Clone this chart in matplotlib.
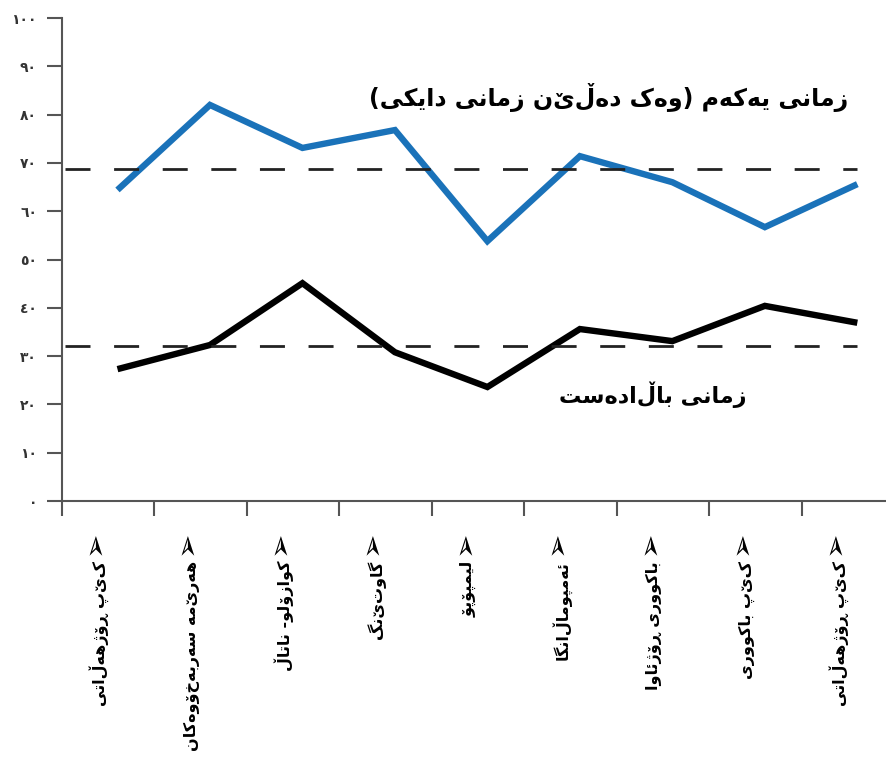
import matplotlib
matplotlib.use('Agg')
import matplotlib.pyplot as plt
import matplotlib.transforms as mtransforms
import numpy as np

plt.rcParams['font.family'] = ['DejaVu Sans']

provinces = ['کێپ ڕۆژهەڵاتی', 'هەرێمە سەربەخۆوەکان', 'کوازۆلو- ناتاڵ', 'گاوتێنگ',
             'لیمپۆپۆ', 'ئەمپوماڵانگا', 'باکووری ڕۆژئاوا', 'کێپ باکووری', 'کێپ ڕۆژهەڵاتی']
first_lang = [64.4, 82.0, 73.1, 76.8, 53.8, 71.4, 66.0, 56.7, 65.6]
dominant_lang = [27.3, 32.3, 45.1, 30.8, 23.6, 35.6, 33.1, 40.4, 36.9]
first_avg = 68.7
dominant_avg = 32.1
label_first = 'زمانی یەکەم (وەک دەڵێن زمانی دایکی)'
label_dominant = 'زمانی باڵادەست'
yticks = [0, 10, 20, 30, 40, 50, 60, 70, 80, 90, 100]

# matplotlib has no arabic shaping, so pick presentation forms by hand
FORMS = {
    'ب': '\uFE8F\uFE90\uFE91\uFE92', 'ت': '\uFE95\uFE96\uFE97\uFE98',
    'پ': '\uFB56\uFB57\uFB58\uFB59', 'س': '\uFEB1\uFEB2\uFEB3\uFEB4',
    'ک': '\uFB8E\uFB8F\uFB90\uFB91', 'گ': '\uFB92\uFB93\uFB94\uFB95',
    'ل': '\uFEDD\uFEDE\uFEDF\uFEE0', 'م': '\uFEE1\uFEE2\uFEE3\uFEE4',
    'ن': '\uFEE5\uFEE6\uFEE7\uFEE8', 'ه': '\uFEE9\uFEEA\uFEEB\uFEEC',
    'ی': '\uFBFC\uFBFD\uFBFE\uFBFF', 'ئ': '\uFE89\uFE8A\uFE8B\uFE8C',
    'ا': '\uFE8D\uFE8E', 'د': '\uFEA9\uFEAA', 'ر': '\uFEAD\uFEAE',
    'ز': '\uFEAF\uFEB0', 'ژ': '\uFB8A\uFB8B', 'و': '\uFEED\uFEEE',
    'ۆ': '\uFBD9\uFBDA', 'ە': '\uFEE9\uFEEA',
}
MIRROR = {'(': ')', ')': '('}


def shape(text):
    out = []
    i = 0
    while i < len(text):
        c = text[i]
        prev_joins = i > 0 and len(FORMS.get(text[i - 1], '')) == 4
        if c == 'ل' and i + 1 < len(text) and text[i + 1] == 'ا':
            out.append('\uFEFC' if prev_joins else '\uFEFB')
            i += 2
            continue
        f = FORMS.get(c)
        if f is None:
            out.append(MIRROR.get(c, c))
        elif len(f) == 2:
            out.append(f[1] if prev_joins else f[0])
        else:
            next_joins = i + 1 < len(text) and text[i + 1] in FORMS
            if prev_joins and next_joins:
                out.append(f[3])
            elif prev_joins:
                out.append(f[1])
            elif next_joins:
                out.append(f[2])
            else:
                out.append(f[0])
        i += 1
    return ''.join(reversed(out))


def eastern(n):
    return ''.join(chr(0x660 + int(d)) for d in str(n))


fig = plt.figure(figsize=(8.86, 7.57), dpi=100)
ax = fig.add_axes([62 / 886, 256 / 757, 824 / 886, 483 / 757])

x = np.arange(len(provinces)) + 0.6
ax.plot(x, first_lang, color='#1a72b9', lw=4.6, solid_capstyle='butt', solid_joinstyle='miter')
ax.plot(x, dominant_lang, color='black', lw=4.6, solid_capstyle='butt', solid_joinstyle='miter')
ax.plot([0.03, 8.6], [first_avg, first_avg], color='#222222', lw=2, dashes=(9, 8.5))
ax.plot([0.03, 8.6], [dominant_avg, dominant_avg], color='#222222', lw=2, dashes=(9, 8.5))

ax.text(8.5, 83.5, shape(label_first), ha='right', va='center', fontsize=17,
        fontweight='bold')
ax.text(7.4, 22, shape(label_dominant), ha='right', va='center', fontsize=16,
        fontweight='bold')

ax.set_xlim(0, 8.91)
ax.set_ylim(0, 100)
ax.set_xticks(np.arange(len(provinces)))
ax.set_xticklabels([])
ax.set_yticks(yticks)
ax.set_yticklabels([eastern(v) for v in yticks], fontsize=10, fontweight='bold', color='#333333')
ax.tick_params(axis='both', direction='out', length=11, width=1.5, color='#555555')
ax.tick_params(axis='y', pad=7)
for s in ['top', 'right']:
    ax.spines[s].set_visible(False)
for s in ['left', 'bottom']:
    ax.spines[s].set_color('#555555')
    ax.spines[s].set_linewidth(1.5)

trans = mtransforms.blended_transform_factory(ax.transData, ax.transAxes)
for i, name in enumerate(provinces):
    ax.text(i + 0.35, -0.087, '➢', rotation=90, ha='center', va='center',
            fontsize=21, transform=trans)
    ax.text(i + 0.4, -0.124, shape(name), rotation=90, ha='center', va='top',
            fontsize=11.5, fontweight='bold', transform=trans)

fig.savefig('out.png', dpi=100)
